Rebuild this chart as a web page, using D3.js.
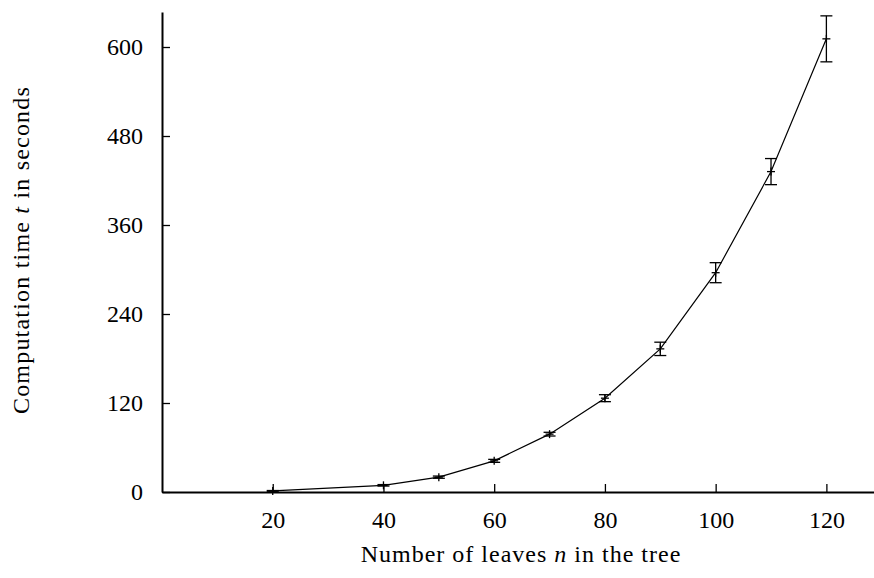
<!DOCTYPE html>
<html>
<head>
<meta charset="utf-8">
<script src="https://cdn.jsdelivr.net/npm/d3@7"></script>
<style>
  html, body { margin: 0; padding: 0; background: #fff; }
  svg { display: block; }
  text { font-family: "Liberation Serif", "Times New Roman", serif; fill: #000; }
</style>
</head>
<body>
<svg id="chart" width="874" height="578"></svg>
<script>
// ---- data ----
const leaves = [20, 40, 50, 60, 70, 80, 90, 100, 110, 120];
const meanTime = [1.5, 9, 20, 42, 78, 126.5, 193, 295.7, 432, 611];
const errTime = [0.5, 1, 1.5, 2, 2.5, 4.7, 9, 13.5, 17.6, 31];
const xTicks = [20, 40, 60, 80, 100, 120];
const yTicks = [0, 120, 240, 360, 480, 600];
const xTitle = ["Number of leaves ", "n", " in the tree"];
const yTitle = ["Computation time ", "t", " in seconds"];

const data = leaves.map((n, i) => ({ n, t: meanTime[i], e: errTime[i] }));

const svg = d3.select("#chart");
const x = d3.scaleLinear().domain([0, 128.6]).range([162, 874]);
const y = d3.scaleLinear().domain([0, 647.2]).range([492, 12]);

// axes
const gx = svg.append("g").attr("transform", "translate(0,492)")
  .call(d3.axisBottom(x).tickValues(xTicks).tickSizeInner(-8).tickSizeOuter(0).tickPadding(19));
const gy = svg.append("g").attr("transform", "translate(162,0)")
  .call(d3.axisLeft(y).tickValues(yTicks).tickSizeInner(-8).tickSizeOuter(0).tickPadding(19));

[gx, gy].forEach(g => {
  g.select(".domain").attr("stroke", "#000").attr("stroke-width", 2);
  g.selectAll(".tick line").attr("stroke", "#000").attr("stroke-width", 1.3);
  g.selectAll(".tick text").attr("font-size", 24).attr("font-family", "Liberation Serif");
});

// line
const line = d3.line().x(d => x(d.n)).y(d => y(d.t));
svg.append("path").datum(data)
  .attr("d", line).attr("fill", "none").attr("stroke", "#000").attr("stroke-width", 1.2);

// error bars
const capW = 6, plusW = 4;
const eb = svg.append("g").attr("stroke", "#000").attr("stroke-width", 1.3);
data.forEach(d => {
  const cx = x(d.n);
  const y0 = y(d.t - d.e), y1 = y(d.t + d.e);
  eb.append("line").attr("x1", cx).attr("x2", cx).attr("y1", y0).attr("y2", y1);
  eb.append("line").attr("x1", cx - capW).attr("x2", cx + capW).attr("y1", y0).attr("y2", y0);
  eb.append("line").attr("x1", cx - capW).attr("x2", cx + capW).attr("y1", y1).attr("y2", y1);
  // plus marker
  eb.append("line").attr("x1", cx - plusW).attr("x2", cx + plusW).attr("y1", y(d.t)).attr("y2", y(d.t));
  eb.append("line").attr("x1", cx).attr("x2", cx).attr("y1", y(d.t) - plusW).attr("y2", y(d.t) + plusW);
});

// titles
const xt = svg.append("text").attr("x", 521).attr("y", 562)
  .attr("text-anchor", "middle").attr("font-size", 24).attr("letter-spacing", "1px");
xTitle.forEach((s, i) => xt.append("tspan").attr("font-style", i === 1 ? "italic" : "normal").text(s));

const yt = svg.append("text").attr("transform", "translate(28.5,250) rotate(-90)")
  .attr("text-anchor", "middle").attr("font-size", 24).attr("letter-spacing", "1.2px");
yTitle.forEach((s, i) => yt.append("tspan").attr("font-style", i === 1 ? "italic" : "normal").text(s));
</script>
</body>
</html>
